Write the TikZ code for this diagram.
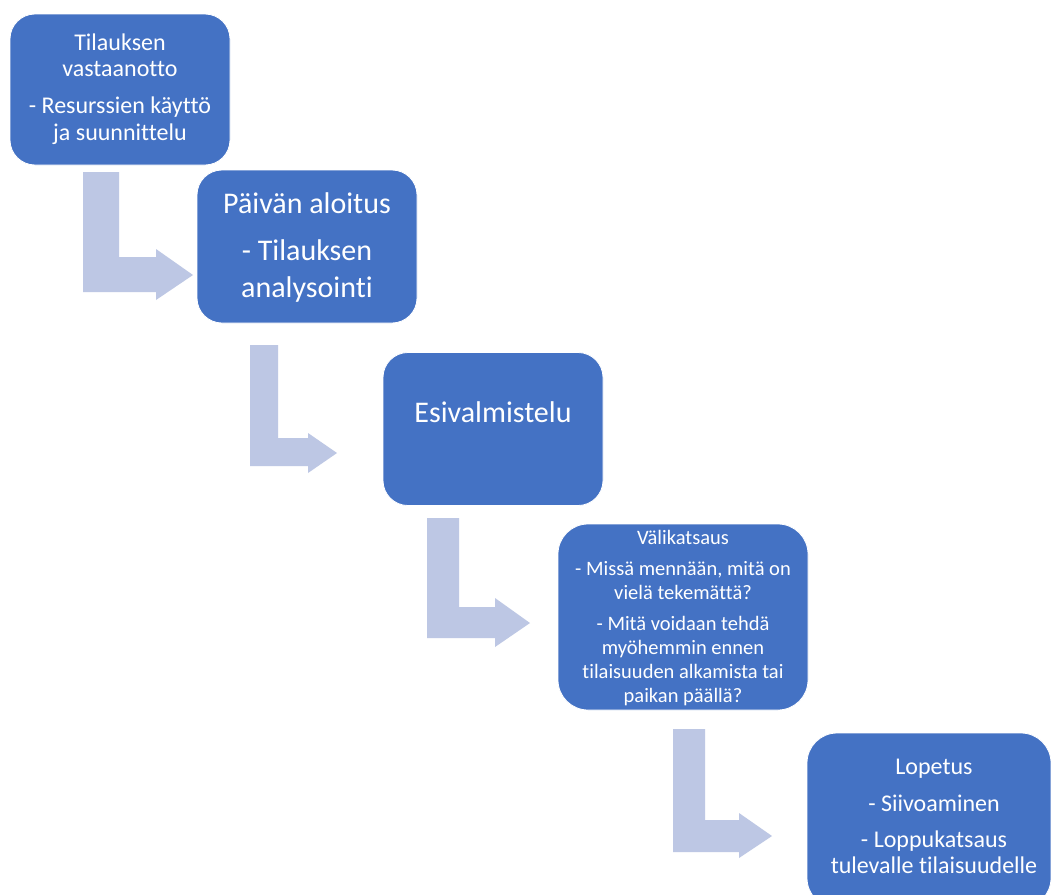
\documentclass[tikz,border=0pt]{standalone}
\usepackage{fontspec}
\setmainfont{Carlito}[Ligatures=NoCommon]
\definecolor{boxblue}{HTML}{4472C4}
\definecolor{arrowblue}{HTML}{BDC7E4}
\tikzset{
  box/.style={fill=boxblue, draw=white, line width=0.8pt, inner sep=0pt},
  txt/.style={text=white, align=center, inner sep=0pt},
  bentarrow/.style={fill=arrowblue, draw=none}
}
\begin{document}
\begin{tikzpicture}[x=1pt,y=-1pt]
\clip (0,0) rectangle (1051,894);
\fill[white] (0,0) rectangle (1051,894);
% arrows
\fill[bentarrow] (83,172) -- (119,172) -- (119,257) -- (156,257) -- (156,249) -- (193,275) -- (156,300) -- (156,292) -- (83,292) -- cycle;
\fill[bentarrow] (250,345) -- (278,345) -- (278,438) -- (308,438) -- (308,433) -- (337,453) -- (308,473) -- (308,466) -- (250,466) -- cycle;
\fill[bentarrow] (427,518) -- (459,518) -- (459,607) -- (495,607) -- (495,598) -- (530,623) -- (495,647) -- (495,638) -- (427,638) -- cycle;
\fill[bentarrow] (673,729) -- (705,729) -- (705,820) -- (739,820) -- (739,813) -- (772,836) -- (739,858) -- (739,852) -- (673,852) -- cycle;
% boxes
\node[box, rounded corners=25pt, minimum width=220pt, minimum height=151pt] (b1) at (120,89.5) {};
\node[box, rounded corners=25pt, minimum width=220pt, minimum height=153pt] (b2) at (307,246.5) {};
\node[box, rounded corners=25pt, minimum width=220pt, minimum height=153pt] (b3) at (493,429) {};
\node[box, rounded corners=30pt, minimum width=250pt, minimum height=186pt] (b4) at (683,617) {};
\node[box, rounded corners=30pt, minimum width=244pt, minimum height=175pt] (b5) at (929,820.5) {};
% texts
\node[txt, font=\fontsize{24}{26.5}\selectfont, anchor=base] (t1) at (120,140)
  {Tilauksen\\vastaanotto\\[10.5pt]- Resurssien käyttö\\ja suunnittelu};
\node[txt, font=\fontsize{30}{37}\selectfont, anchor=base] (t2) at (307,297)
  {Päivän aloitus\\[10pt]- Tilauksen\\analysointi};
\node[txt, font=\fontsize{30}{37}\selectfont, anchor=base] (t3) at (493,422)
  {Esivalmistelu};
\node[txt, font=\fontsize{20.5}{24}\selectfont, anchor=base] (t4) at (683,702)
  {Välikatsaus\\[7pt]- Missä mennään, mitä on\\vielä tekemättä?\\[7pt]- Mitä voidaan tehdä\\myöhemmin ennen\\tilaisuuden alkamista tai\\paikan päällä?};
\node[txt, font=\fontsize{24}{25.5}\selectfont, anchor=base] (t5) at (934,873)
  {Lopetus\\[11pt]- Siivoaminen\\[11pt]- Loppukatsaus\\tulevalle tilaisuudelle};
\end{tikzpicture}
\end{document}
